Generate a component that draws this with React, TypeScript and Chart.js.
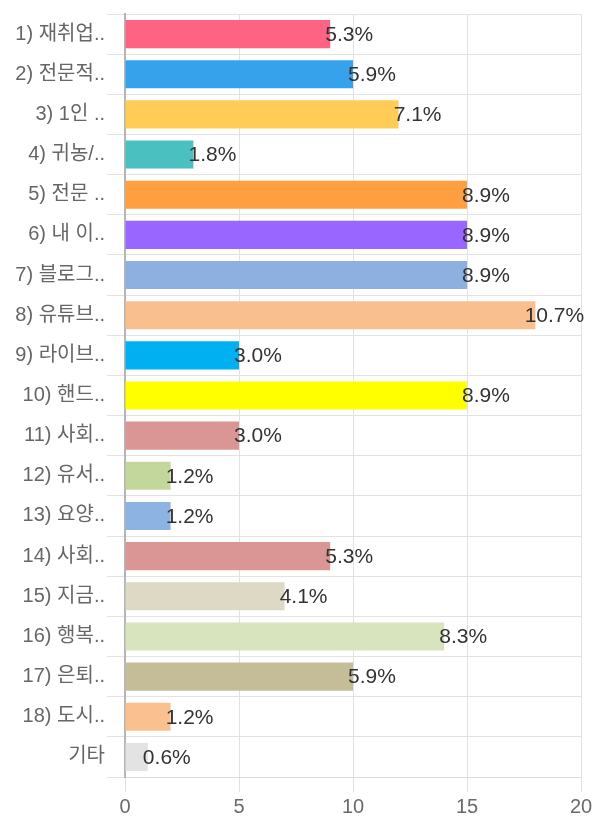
import React, { useEffect, useRef } from "react";
import { Chart, registerables } from "chart.js";

Chart.register(...registerables);

const categories = [
  "1) 재취업..",
  "2) 전문적..",
  "3) 1인 ..",
  "4) 귀농/..",
  "5) 전문 ..",
  "6) 내 이..",
  "7) 블로그..",
  "8) 유튜브..",
  "9) 라이브..",
  "10) 핸드..",
  "11) 사회..",
  "12) 유서..",
  "13) 요양..",
  "14) 사회..",
  "15) 지금..",
  "16) 행복..",
  "17) 은퇴..",
  "18) 도시..",
  "기타",
];

const counts = [9, 10, 12, 3, 15, 15, 15, 18, 5, 15, 5, 2, 2, 9, 7, 14, 10, 2, 1];

const barColors = [
  "#FF6384",
  "#36A2EB",
  "#FFCD56",
  "#4BC0C0",
  "#FF9F40",
  "#9966FF",
  "#8DB0E0",
  "#F9BF8F",
  "#00B0F0",
  "#FFFF00",
  "#D99694",
  "#C3D69B",
  "#8DB3E2",
  "#D99694",
  "#DDD9C4",
  "#D7E4BD",
  "#C4BD97",
  "#FAC090",
  "#E3E3E3",
];

const xTicks = [0, 5, 10, 15, 20];

const FONT = "'Liberation Sans', Arial, 'Noto Sans CJK KR', sans-serif";

const valueLabelPlugin = {
  id: "valueLabels",
  afterDatasetsDraw(chart: any) {
    const ctx = chart.ctx;
    const meta = chart.getDatasetMeta(0);
    const data = chart.data.datasets[0].data as number[];
    const total = data.reduce((a, b) => a + b, 0);
    ctx.save();
    ctx.font = `21px ${FONT}`;
    ctx.fillStyle = "#333333";
    ctx.textAlign = "center";
    ctx.textBaseline = "middle";
    meta.data.forEach((bar: any, i: number) => {
      const pct = ((data[i] / total) * 100).toFixed(1) + "%";
      ctx.fillText(pct, bar.x + 19, bar.y + 1);
    });
    ctx.restore();
  },
};

export default function App() {
  const canvasRef = useRef<HTMLCanvasElement | null>(null);

  useEffect(() => {
    document.body.style.margin = "0";
    const canvas = canvasRef.current;
    if (!canvas) return;
    const chart = new Chart(canvas, {
      type: "bar",
      data: {
        labels: categories,
        datasets: [
          {
            data: counts,
            backgroundColor: barColors,
            borderColor: barColors,
            borderWidth: 0,
            barPercentage: 0.7,
            categoryPercentage: 1,
          },
        ],
      },
      options: {
        indexAxis: "y",
        animation: false,
        responsive: false,
        maintainAspectRatio: false,
        layout: { padding: { top: 13, right: 19, bottom: 0, left: 0 } },
        plugins: {
          legend: { display: false },
          tooltip: { enabled: false },
          title: { display: false },
        },
        scales: {
          x: {
            min: 0,
            max: 20,
            afterBuildTicks(scale: any) {
              scale.ticks = xTicks.map((v) => ({ value: v }));
            },
            afterFit(scale: any) {
              scale.height = 57;
            },
            grid: { color: "#e2e2e2", lineWidth: 1, tickLength: 15 },
            border: { color: "#dcdcdc", width: 1 },
            ticks: {
              color: "#6a6a6a",
              font: { size: 20, family: FONT },
              padding: 3,
            },
          },
          y: {
            afterFit(scale: any) {
              scale.width = 125;
            },
            grid: { color: "#e2e2e2", lineWidth: 1, tickLength: 18, offset: true },
            border: { color: "#b5b5b5", width: 2 },
            ticks: {
              color: "#666666",
              font: { size: 20, family: FONT },
              padding: 2,
            },
          },
        },
      },
      plugins: [valueLabelPlugin],
    } as any);
    return () => chart.destroy();
  }, []);

  return (
    <div style={{ width: 600, height: 834, background: "#fff" }}>
      <canvas ref={canvasRef} width={600} height={834} style={{ display: "block" }} />
    </div>
  );
}
